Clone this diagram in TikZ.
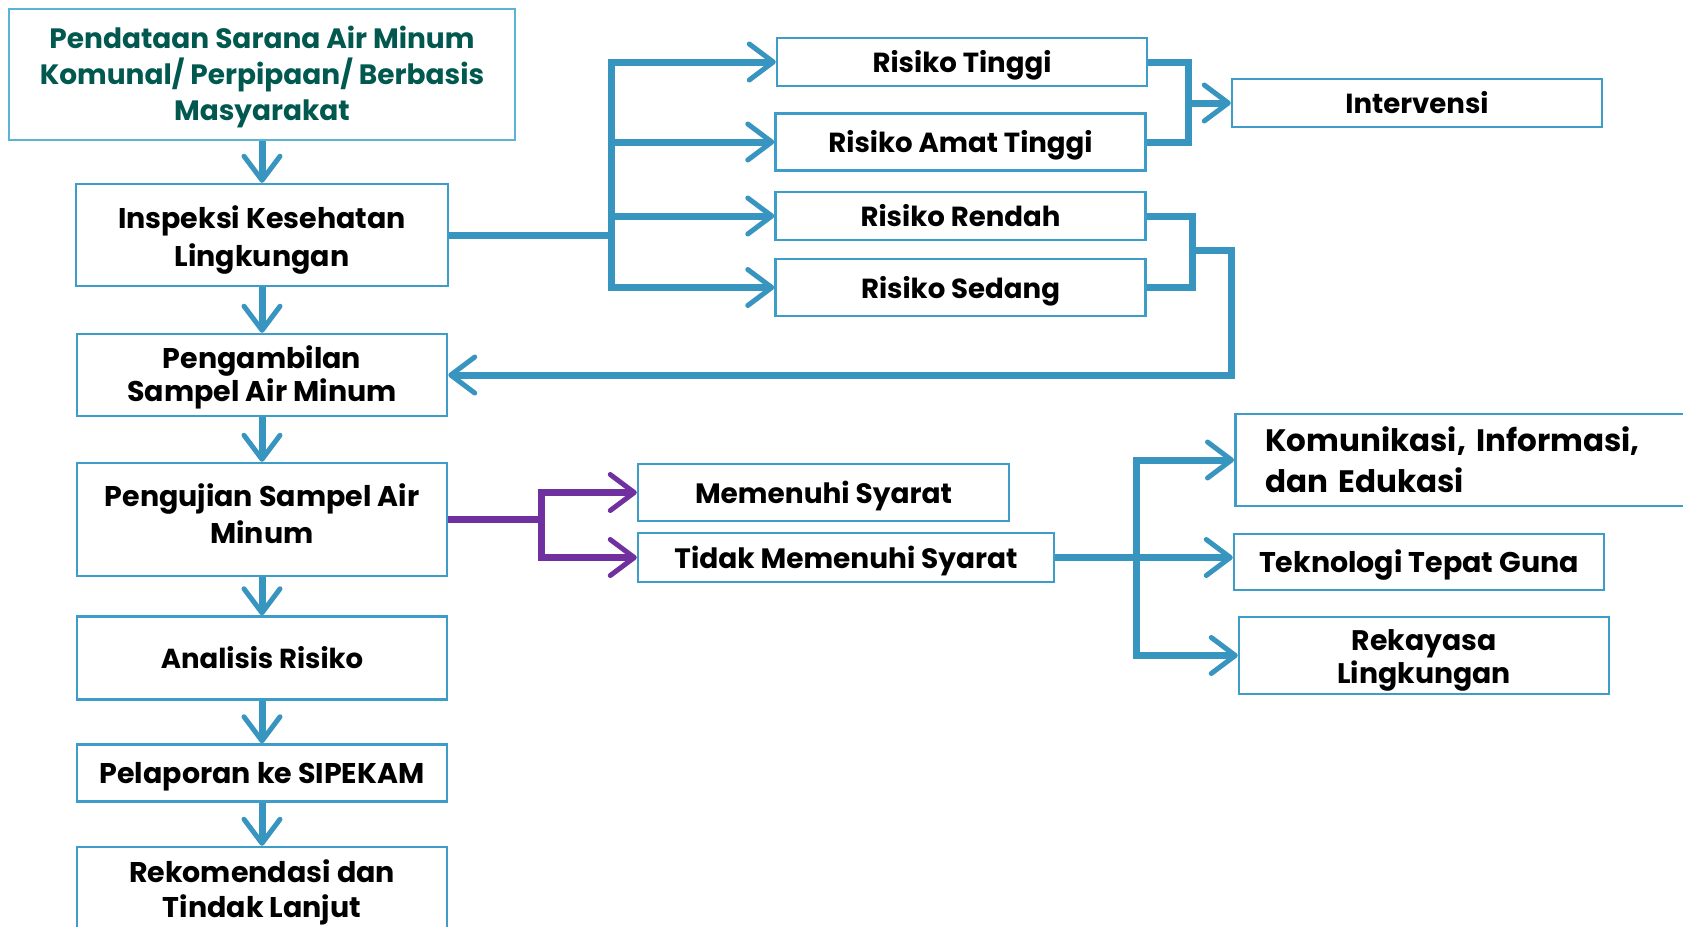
\documentclass[tikz,border=0pt]{standalone}
\usepackage{fontspec}
\setmainfont{Poppins}
\usetikzlibrary{arrows.meta,positioning}
\definecolor{flowblue}{HTML}{3895BF}
\definecolor{boxblue}{HTML}{3E9CC8}
\definecolor{titleblue}{HTML}{5DB3D5}
\definecolor{titleteal}{HTML}{00584F}
\definecolor{flowpurple}{HTML}{7030A0}
\newcommand{\boxfont}[2]{\bfseries\fontsize{#1}{#2}\selectfont}
\newcommand{\toppad}[1]{\rule{0pt}{#1}}
\newcommand{\botpad}[1]{\rule[-#1]{0pt}{#1}}
\tikzset{
  blk/.style={draw=boxblue,rectangle,line width=2.5pt,minimum width=370pt,align=center,inner sep=2pt,font=\boxfont{28.5}{38}},
  oneline/.style={text height=22pt,text depth=1pt},
  ttlblk/.style={blk,draw=titleblue,line width=1.5pt,text=titleteal},
  rskblk/.style={blk,oneline,font=\boxfont{27.6}{34}},
  conn/.style={flowblue,line width=7pt},
  arr/.style={conn,-{Straight Barb[length=24pt,width=36pt,line width=5pt,round]}},
  parr/.style={arr,flowpurple}
}

\begin{document}
\begin{tikzpicture}[x=1pt,y=-1pt]
  \useasboundingbox (0,0) rectangle (1683,926);

  % main column
  \node[ttlblk, minimum width=506pt, minimum height=131pt, font=\boxfont{28}{36}] (data) at (262,74.5) {\toppad{28pt}Pendataan Sarana Air Minum\\Komunal/ Perpipaan/ Berbasis\\Masyarakat};
  \node[blk, minimum width=372pt, minimum height=102pt] (insp) at (262,235) {\toppad{32pt}Inspeksi Kesehatan\\Lingkungan};
  \node[blk, minimum height=82pt, font=\boxfont{28.5}{33}] (ambil) at (262,375) {\toppad{28pt}Pengambilan\\Sampel Air Minum};
  \node[blk, minimum height=113pt, font=\boxfont{28.5}{37}] (uji) at (262,519.5) {Pengujian Sampel Air\\Minum\botpad{11pt}};
  \node[blk, oneline, minimum height=83pt, font=\boxfont{27.5}{34}] (analisis) at (262,658) {Analisis Risiko};
  \node[blk, oneline, minimum height=57pt] (lapor) at (262,773) {Pelaporan ke SIPEKAM};
  \node[blk, minimum height=84pt, font=\boxfont{28.5}{35}] (rekom) at (262,889) {\toppad{30pt}Rekomendasi dan\\Tindak Lanjut};

  % risk levels
  \node[rskblk, minimum height=48pt] (tinggi) at (962,62) {Risiko Tinggi};
  \node[rskblk, minimum height=57pt] (amat) at (960.5,142) {Risiko Amat Tinggi};
  \node[rskblk, minimum height=48pt] (rendah) at (960.5,216) {Risiko Rendah};
  \node[rskblk, minimum height=57pt] (sedang) at (960.5,287.5) {Risiko Sedang};
  \node[rskblk, minimum height=48pt] (interv) at (1417,103) {Intervensi};

  % test results
  \node[rskblk, minimum width=371pt, minimum height=57pt, font=\boxfont{28}{34}] (penuhi) at (823.5,492.5) {Memenuhi Syarat};
  \node[rskblk, minimum width=416pt, minimum height=49pt, font=\boxfont{28}{34}] (tidak) at (846,557.5) {Tidak Memenuhi Syarat};
  \node[blk, anchor=west, text width=420pt, inner xsep=30pt, minimum height=92pt, align=left, font=\boxfont{31}{41}] (kie) at (1234,460) {Komunikasi, Informasi,\\dan Edukasi};
  \node[rskblk, minimum height=56pt, font=\boxfont{28.5}{34}] (tekno) at (1419,562) {Teknologi Tepat Guna};
  \node[blk, minimum height=77pt, font=\boxfont{28.3}{33}] (rekayasa) at (1424,655.5) {\toppad{30pt}Rekayasa\\Lingkungan};

  \coordinate (rj) at (611.5,235);
  \coordinate (ij) at (1188.5,103);
  \coordinate (sj) at (1192.5,250.5);
  \coordinate (back) at (1231,375);
  \coordinate (pj) at (541,519.5);
  \coordinate (tj) at (1136,557.5);

  \draw[arr] (data) -- (insp);
  \draw[arr] (insp) -- (ambil);
  \draw[arr] (ambil) -- (uji);
  \draw[arr] (uji) -- (analisis);
  \draw[arr] (analisis) -- (lapor);
  \draw[arr] (lapor) -- (rekom);

  \draw[conn] (insp.east) -- (rj);
  \draw[arr] (rj) |- (tinggi.west);
  \draw[arr] (rj) |- (amat.west);
  \draw[arr] (rj) |- (rendah.west);
  \draw[arr] (rj) |- (sedang.west);

  \draw[conn] (tinggi.east) -| (ij) |- (amat.east);
  \draw[arr] (ij) -- (interv.west);
  \draw[conn] (rendah.east) -| (sj) |- (sedang.east);
  \draw[arr] (sj) -| (back) -- (ambil.east);

  \draw[conn,flowpurple] (uji.east) -- (pj);
  \draw[parr] (pj) |- (penuhi.west);
  \draw[parr] (pj) |- (tidak.west);

  \draw[arr] (tidak.east) -- (tidak.east -| tekno.west);
  \draw[arr] (tj) |- (kie.west);
  \draw[arr] (tj) |- (rekayasa.west);
\end{tikzpicture}
\end{document}
